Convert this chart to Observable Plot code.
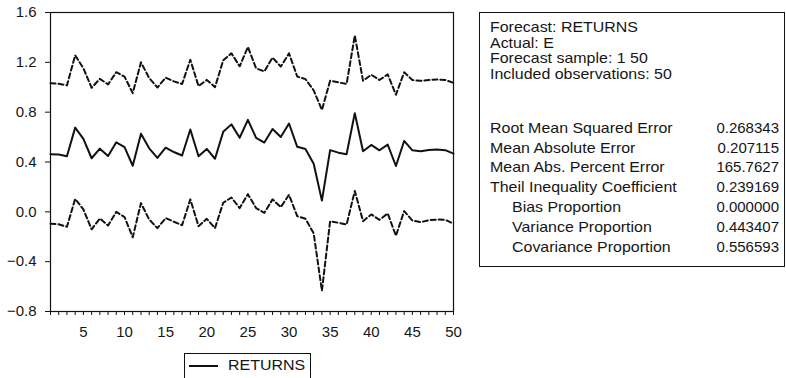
<!DOCTYPE html>
<html>
<head>
<meta charset="utf-8">
<script src="https://cdn.jsdelivr.net/npm/d3@7"></script>
<script src="https://cdn.jsdelivr.net/npm/@observablehq/plot@0.6"></script>
<style>
  html, body { margin: 0; padding: 0; background: #fff; }
  body { width: 786px; height: 378px; overflow: hidden; font-family: "Liberation Sans", Arial, Helvetica, sans-serif; color: #161616; }
  #wrap { position: relative; width: 786px; height: 378px; }
  #chart { position: absolute; left: 0; top: 0; }
  .box { position: absolute; border: 1px solid #111; box-sizing: border-box; background: #fff; }
  .row { position: absolute; font-size: 14.5px; line-height: 14.5px; white-space: nowrap; }
  .wide { transform: scaleX(1.1); transform-origin: 0 50%; }
  .num { font-size: 15px; line-height: 14.5px; text-align: right; }
</style>
</head>
<body>
<div id="wrap">
  <div id="chart"></div>
</div>
<script>
// Forecast sample 1..50: point forecast of RETURNS with its ±2 S.E. band
const obs = d3.range(1, 51);
const forecast = [
  0.462, 0.460, 0.446, 0.676, 0.586, 0.430, 0.507, 0.448, 0.558, 0.520,
  0.370, 0.627, 0.510, 0.433, 0.515, 0.480, 0.452, 0.661, 0.446, 0.505,
  0.426, 0.642, 0.702, 0.595, 0.738, 0.594, 0.556, 0.665, 0.601, 0.709,
  0.522, 0.505, 0.386, 0.090, 0.495, 0.475, 0.462, 0.792, 0.486, 0.537,
  0.494, 0.540, 0.368, 0.569, 0.494, 0.487, 0.496, 0.501, 0.495, 0.467
];
const upperBand = [
  1.032, 1.028, 1.015, 1.256, 1.152, 0.996, 1.067, 1.023, 1.121, 1.085,
  0.953, 1.200, 1.074, 0.998, 1.077, 1.047, 1.026, 1.221, 1.009, 1.059,
  1.001, 1.216, 1.272, 1.168, 1.323, 1.152, 1.127, 1.238, 1.166, 1.272,
  1.086, 1.065, 0.975, 0.818, 1.052, 1.039, 1.026, 1.415, 1.052, 1.100,
  1.058, 1.103, 0.940, 1.120, 1.058, 1.052, 1.058, 1.063, 1.058, 1.036
];
const lowerBand = [
  -0.095, -0.100, -0.120, 0.104, 0.019, -0.140, -0.053, -0.110, 0.000, -0.042,
  -0.204, 0.070, -0.062, -0.131, -0.050, -0.080, -0.107, 0.100, -0.115, -0.056,
  -0.131, 0.073, 0.115, 0.030, 0.142, 0.030, -0.008, 0.100, 0.038, 0.137,
  -0.035, -0.056, -0.173, -0.633, -0.075, -0.088, -0.102, 0.167, -0.075, -0.021,
  -0.064, -0.013, -0.192, 0.006, -0.070, -0.083, -0.067, -0.062, -0.064, -0.095
];
const yTicks = [-0.8, -0.4, 0.0, 0.4, 0.8, 1.2, 1.6];
const xTicks = d3.range(1, 51);

// Forecast evaluation table
const infoLines = [
  "Forecast: RETURNS",
  "Actual: E",
  "Forecast sample: 1 50",
  "Included observations: 50"
];
const statLabels = [
  "Root Mean Squared Error",
  "Mean Absolute Error",
  "Mean Abs. Percent Error",
  "Theil Inequality Coefficient",
  "Bias Proportion",
  "Variance Proportion",
  "Covariance Proportion"
];
const statValues = ["0.268343", "0.207115", "165.7627", "0.239169", "0.000000", "0.443407", "0.556593"];
const statIndented = [false, false, false, false, true, true, true];
const seriesName = "RETURNS";

const rows = obs.map((t, i) => ({t, f: forecast[i], hi: upperBand[i], lo: lowerBand[i]}));

const chart = Plot.plot({
  width: 470,
  height: 378,
  marginLeft: 50,
  marginRight: 17,
  marginTop: 12,
  marginBottom: 67,
  style: {fontFamily: '"Liberation Sans", Arial, sans-serif', fontSize: "15px", color: "#161616", background: "transparent"},
  x: {domain: [1, 50]},
  y: {domain: [-0.8, 1.6]},
  marks: [
    Plot.frame({stroke: "#111", strokeWidth: 1.2}),
    Plot.axisY({ticks: yTicks, tickSize: 5, tickPadding: 9, tickFormat: d3.format(".1f"), label: null, stroke: "#111"}),
    Plot.axisX({ticks: xTicks, tickSize: 4, tickPadding: 11, tickFormat: d => d % 5 === 0 ? String(d) : "", label: null, stroke: "#111"}),
    Plot.line(rows, {x: "t", y: "hi", stroke: "#111", strokeWidth: 2, strokeDasharray: "5,3"}),
    Plot.line(rows, {x: "t", y: "lo", stroke: "#111", strokeWidth: 2, strokeDasharray: "5,3"}),
    Plot.line(rows, {x: "t", y: "f", stroke: "#111", strokeWidth: 2})
  ]
});
document.getElementById("chart").append(chart);

const wrap = d3.select("#wrap");

// statistics box to the right of the plot
const box = wrap.append("div").attr("class", "box")
  .style("left", "479px").style("top", "12px").style("width", "306px").style("height", "255px");
infoLines.forEach((s, i) => {
  box.append("div").attr("class", "row wide")
    .style("left", "10px").style("top", (7 + i * 15.7) + "px").text(s);
});
statLabels.forEach((s, i) => {
  const top = 107.75 + i * 19.8;
  box.append("div").attr("class", "row wide")
    .style("left", (statIndented[i] ? 32 : 10) + "px").style("top", top + "px").text(s);
  box.append("div").attr("class", "row num")
    .style("right", "5px").style("top", top + "px").text(statValues[i]);
});

// legend below the axis
const legend = wrap.append("div").attr("class", "box")
  .style("left", "184px").style("top", "353px").style("width", "127px").style("height", "40px");
legend.append("div")
  .style("position", "absolute").style("left", "4px").style("top", "11px")
  .style("width", "29px").style("height", "2px").style("background", "#111");
legend.append("div").attr("class", "row wide")
  .style("left", "43px").style("top", "3.75px").text(seriesName);
</script>
</body>
</html>
